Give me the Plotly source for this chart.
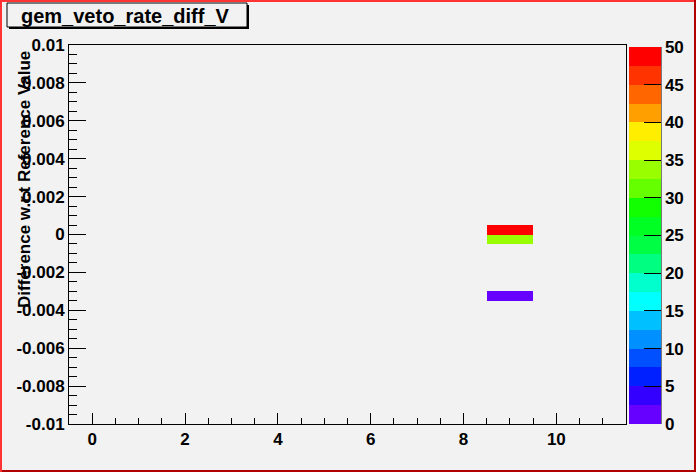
import numpy as np
import plotly.graph_objects as go

# filled bins of the 2D histogram (x bin centre, lower y edge, content)
bin_x = [9, 9, 9]
bin_y_low = [0.0, -0.0005, -0.0035]
counts = [50, 34, 1]

# binning
x_centers = list(range(12))
y_edges = np.linspace(-0.01, 0.01, 41)

# 20-level palette, bottom to top
palette = [
    '#6600ff', '#3300ff', '#0020ff', '#0050ff', '#0090ff',
    '#00c0ff', '#00ffff', '#00ffcc', '#00ff80', '#00ff44',
    '#00ff22', '#11ff00', '#66ff00', '#99ff00', '#ddff00',
    '#ffee00', '#ffa000', '#ff6600', '#ff3300', '#ff0000',
]

y_ticks = [-0.01, -0.008, -0.006, -0.004, -0.002, 0, 0.002, 0.004, 0.006, 0.008, 0.01]
y_ticktext = ['-0.01', '-0.008', '-0.006', '-0.004', '-0.002', '0',
              '0.002', '0.004', '0.006', '0.008', '0.01']
x_ticks = [0, 2, 4, 6, 8, 10]
cbar_ticks = [0, 5, 10, 15, 20, 25, 30, 35, 40, 45, 50]

y_centers = (y_edges[:-1] + y_edges[1:]) / 2
z = np.full((len(y_centers), len(x_centers)), np.nan)
for bx, by, c in zip(bin_x, bin_y_low, counts):
    iy = int(round((by - y_edges[0]) / 0.0005))
    z[iy, x_centers.index(bx)] = c

colorscale = []
n = len(palette)
for i, c in enumerate(palette):
    colorscale.append([i / n, c])
    colorscale.append([(i + 1) / n, c])

W, H = 696, 472
L, R, T, B = 69, 70, 45, 48
pw, ph = W - L - R, H - T - B


def px_x(p):
    return (p - L) / pw


def px_y(p):
    return (H - B - p) / ph


font = dict(family='Liberation Sans, Arial', size=17, color='black', weight='bold')

fig = go.Figure(go.Heatmap(
    x=x_centers,
    y=y_centers,
    z=z,
    zmin=0,
    zmax=50,
    colorscale=colorscale,
    hoverongaps=False,
    colorbar=dict(
        x=px_x(629), xanchor='left', xpad=0,
        y=0, yanchor='bottom', ypad=0,
        len=(424 - 47) / ph, lenmode='fraction',
        thickness=32, thicknessmode='pixels',
        outlinewidth=0,
        tickvals=cbar_ticks,
        ticks='inside', ticklen=17, tickcolor='black', tickwidth=1,
        tickfont=font,
    ),
))

fig.update_xaxes(
    range=[-0.5, 11.5], tickvals=x_ticks, ticks='inside', ticklen=11,
    tickcolor='black', minor=dict(dtick=0.5, tick0=0, ticks='inside', ticklen=6, tickcolor='black'),
    showgrid=False, zeroline=False, showline=True, mirror=True,
    linecolor='black', linewidth=1, tickfont=font, automargin=False,
)
fig.update_yaxes(
    range=[-0.01, 0.01], tickvals=y_ticks, ticktext=y_ticktext, ticks='inside',
    ticklen=17, tickcolor='black',
    minor=dict(dtick=0.0005, tick0=0, ticks='inside', ticklen=8, tickcolor='black'),
    showgrid=False, zeroline=False, showline=True, mirror=True,
    linecolor='black', linewidth=1, tickfont=font, automargin=False,
)

shapes = [
    # colorbar axis line
    dict(type='line', xref='paper', yref='paper', x0=px_x(661), x1=px_x(661),
         y0=px_y(424), y1=px_y(47), line=dict(color='black', width=1)),
    # title box shadow + box
    dict(type='rect', xref='paper', yref='paper', x0=px_x(9), x1=px_x(249),
         y0=px_y(29), y1=px_y(5), fillcolor='black', line=dict(width=0)),
    dict(type='rect', xref='paper', yref='paper', x0=px_x(7), x1=px_x(247),
         y0=px_y(27), y1=px_y(3), fillcolor='#f2f2f2', line=dict(color='black', width=1)),
    # canvas border
    dict(type='rect', xref='paper', yref='paper', x0=px_x(0), x1=px_x(2),
         y0=px_y(472), y1=px_y(0), fillcolor='#ff3333', line=dict(width=0)),
    dict(type='rect', xref='paper', yref='paper', x0=px_x(0), x1=px_x(696),
         y0=px_y(2), y1=px_y(0), fillcolor='#ff3333', line=dict(width=0)),
    dict(type='rect', xref='paper', yref='paper', x0=px_x(694), x1=px_x(696),
         y0=px_y(472), y1=px_y(0), fillcolor='#b00000', line=dict(width=0)),
    dict(type='rect', xref='paper', yref='paper', x0=px_x(2), x1=px_x(696),
         y0=px_y(472), y1=px_y(470), fillcolor='#b00000', line=dict(width=0)),
]

annotations = [
    dict(text='gem_veto_rate_diff_V', xref='paper', yref='paper',
         x=px_x(125), y=px_y(16), xanchor='center', yanchor='middle',
         showarrow=False, font=dict(family='Liberation Sans, Arial', size=20,
                                    color='black', weight='bold')),
    dict(text='Difference w.r.t Reference Value', xref='paper', yref='paper',
         x=px_x(24), y=px_y(180), xanchor='center', yanchor='middle',
         textangle=-90, showarrow=False, font=font),
]

fig.update_layout(
    width=W, height=H,
    margin=dict(l=L, r=R, t=T, b=B, autoexpand=False),
    paper_bgcolor='#f2f2f2',
    plot_bgcolor='#f2f2f2',
    shapes=shapes,
    annotations=annotations,
    showlegend=False,
)

# page body has a default 8px margin; drop it so the canvas sits at 0,0
fig.write_html("out.html", config={'displayModeBar': False},
               post_script="document.body.style.margin='0';")
